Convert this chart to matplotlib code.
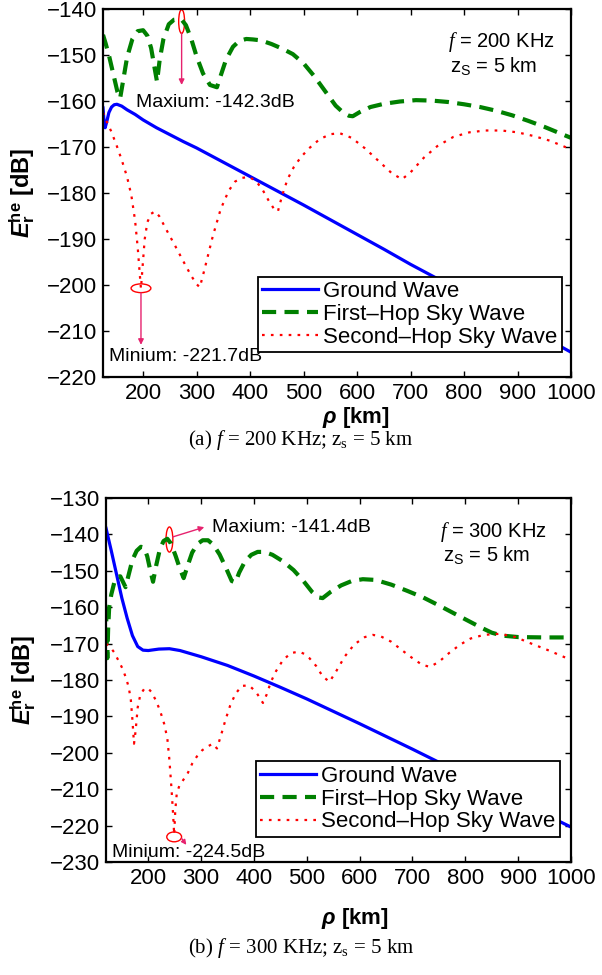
import numpy as np
import matplotlib
matplotlib.use('Agg')
import matplotlib.pyplot as plt
from matplotlib.patches import Ellipse

plt.rcParams['font.family'] = 'Liberation Sans'
plt.rcParams['mathtext.fontset'] = 'custom'
plt.rcParams['mathtext.it'] = 'Liberation Serif:italic'
plt.rcParams['mathtext.rm'] = 'Liberation Sans'
plt.rcParams['mathtext.bf'] = 'Liberation Sans:bold'
plt.rcParams['mathtext.sf'] = 'Liberation Sans:bold:italic'
plt.rcParams['mathtext.cal'] = 'Liberation Serif'

# ---------------- (a) f = 200 KHz ----------------
gw1_x = [125, 127, 129, 132, 136, 141, 146, 151, 160, 170, 185, 200, 225, 250, 275, 300,
         350, 400, 450, 500, 550, 600, 650, 700, 750, 800, 850, 900, 950, 1000]
gw1_y = [-161.5, -164.5, -165.8, -164.5, -162.5, -161.3, -160.8, -160.7, -161.1, -161.9,
         -162.9, -164.1, -165.8, -167.3, -168.8, -170.2, -173.3, -176.4, -179.5, -182.6,
         -185.8, -189.0, -192.2, -195.5, -198.6, -201.8, -205.0, -208.2, -211.4, -214.6]

fh1_x = [125, 130, 137, 145, 152, 157, 162, 170, 180, 190, 200, 208, 215, 221, 226, 231,
         238, 248, 258, 265, 272, 280, 290, 300, 312, 325, 338, 345, 355, 368, 380, 393,
         405, 420, 440, 460, 480, 500, 520, 540, 560, 575, 585, 592, 605, 625, 650, 680,
         710, 740, 770, 800, 830, 860, 890, 920, 950, 975, 1000]
fh1_y = [-145.6, -147.5, -150.5, -154.5, -158.0, -159.4, -156.0, -150.5, -146.5, -144.8,
         -144.6, -145.8, -148.5, -152.5, -155.8, -151.0, -146.5, -143.3, -142.3, -142.2,
         -142.3, -143.5, -146.5, -150.3, -154.0, -156.5, -157.0, -154.5, -151.0, -148.2,
         -146.9, -146.5, -146.6, -146.8, -147.6, -148.6, -149.8, -151.8, -154.6, -157.8,
         -161.0, -162.6, -163.2, -163.3, -162.4, -161.3, -160.6, -160.1, -159.8, -159.9,
         -160.2, -160.7, -161.3, -162.1, -163.1, -164.3, -165.6, -166.8, -168.0]

sh1_x = [125, 132, 140, 150, 160, 170, 178, 185, 190, 194, 196, 199, 203, 208, 215, 222,
         230, 245, 260, 275, 290, 300, 306, 315, 330, 345, 360, 372, 385, 398, 410, 422,
         434, 445, 452, 460, 470, 482, 495, 510, 530, 550, 568, 590, 615, 640, 665, 684,
         700, 725, 750, 780, 810, 840, 870, 900, 930, 960, 1000]
sh1_y = [-162.5, -164.5, -166.5, -169.5, -172.8, -176.5, -180.5, -186.0, -192.0, -198.0,
         -200.8, -196.0, -190.0, -186.3, -184.5, -184.0, -185.0, -188.3, -191.5, -194.8,
         -198.0, -199.8, -200.5, -196.5, -189.5, -183.5, -179.5, -177.5, -176.7, -176.5,
         -177.3, -179.0, -181.5, -183.5, -184.0, -180.5, -177.0, -174.3, -172.2, -170.3,
         -168.3, -167.2, -167.0, -168.0, -170.3, -173.0, -175.7, -177.0, -175.5, -172.3,
         -169.8, -167.8, -166.8, -166.4, -166.4, -166.8, -167.6, -168.6, -170.5]

# ---------------- (b) f = 300 KHz ----------------
gw2_x = [120, 130, 140, 150, 160, 170, 180, 190, 200, 220, 240, 260, 300, 350, 400, 450,
         500, 600, 700, 800, 900, 1000]
gw2_y = [-138.3, -144.5, -151.0, -157.5, -163.0, -167.8, -170.8, -171.8, -171.9, -171.5,
         -171.4, -171.9, -173.6, -176.0, -178.9, -182.0, -185.2, -192.0, -199.0, -206.2,
         -213.3, -220.4]

fh2_x = [120, 121, 122.5, 124, 126, 130, 136, 141, 147, 152, 157, 163, 170, 178, 186, 192,
         198, 204, 209, 215, 222, 229, 236, 243, 252, 260, 267, 274, 283, 293, 303, 313,
         323, 335, 347, 358, 365, 372, 383, 395, 407, 420, 435, 455, 475, 492, 510, 522,
         530, 545, 565, 585, 606, 630, 660, 690, 720, 750, 780, 805, 830, 850, 870, 900,
         950, 1000]
fh2_y = [-160.0, -168.0, -174.0, -166.0, -160.0, -156.5, -153.0, -151.7, -151.5, -153.0,
         -154.5, -151.0, -147.0, -144.5, -143.4, -143.6, -146.0, -150.0, -153.0, -148.5,
         -144.0, -141.8, -141.2, -142.5, -146.0, -149.5, -152.0, -148.8, -145.0, -142.6,
         -141.6, -141.6, -142.8, -145.5, -149.2, -152.8, -153.2, -150.5, -147.4, -145.6,
         -144.8, -144.8, -145.6, -147.4, -149.8, -152.5, -155.8, -157.3, -157.5, -155.8,
         -154.0, -152.8, -152.3, -152.5, -153.8, -155.5, -157.3, -159.5, -161.8, -163.7,
         -165.6, -167.0, -167.8, -168.2, -168.3, -168.3]

sh2_x = [120, 128, 135, 143, 151, 158, 163, 167, 170, 173, 176, 180, 185, 192, 199, 206,
         214, 222, 230, 236, 240, 244, 247, 249, 251, 254, 259, 266, 275, 283, 292, 302,
         312, 322, 330, 338, 346, 355, 365, 377, 391, 404, 417, 424, 432, 442, 455, 470,
         485, 495, 505, 518, 530, 543, 556, 572, 590, 610, 625, 640, 660, 680, 700, 718,
         733, 750, 770, 790, 810, 835, 865, 895, 925, 960, 1000]
sh2_y = [-170.0, -171.0, -172.3, -174.5, -176.8, -179.5, -182.0, -185.5, -191.0, -197.5,
         -194.0, -187.5, -184.0, -182.5, -182.2, -183.3, -185.5, -188.3, -192.0, -196.0,
         -202.0, -210.0, -217.0, -222.5, -216.0, -211.0, -209.0, -207.5, -205.5, -203.0,
         -201.0, -199.3, -198.3, -197.5, -198.8, -195.0, -191.0, -187.0, -183.8, -181.6,
         -181.5, -183.3, -186.3, -184.0, -180.5, -177.5, -174.5, -172.6, -172.2, -172.8,
         -174.0, -176.2, -179.0, -180.5, -177.5, -173.5, -170.2, -168.2, -167.6, -168.0,
         -169.5, -171.8, -174.0, -175.8, -176.4, -175.0, -172.5, -170.3, -168.6, -167.6,
         -167.3, -168.2, -170.0, -172.0, -174.5]

labels = ['Ground Wave', 'First\u2013Hop Sky Wave', 'Second\u2013Hop Sky Wave']
xticks = [200, 300, 400, 500, 600, 700, 800, 900, 1000]
pink = '#e6226e'

fig = plt.figure(figsize=(6.02, 9.75), dpi=100)
ax1 = fig.add_axes([0.1711, 0.6133, 0.7774, 0.3774])
ax2 = fig.add_axes([0.1761, 0.1159, 0.7724, 0.3733])


def draw(ax, gx, gy, fx, fy, sx, sy):
    ax.plot(gx, gy, color='blue', lw=2.3, label=labels[0])
    ax.plot(fx, fy, color='#008000', lw=3.0, ls=(0, (3.4, 2.0)), label=labels[1])
    ax.plot(sx, sy, color='red', lw=1.6, ls=(0, (1.2, 2.8)), label=labels[2])
    ax.set_xticks(xticks)
    ax.tick_params(direction='in', length=4, width=1, top=True, right=True,
                   labelsize=16, pad=4)
    for s in ax.spines.values():
        s.set_linewidth(1.6)
    ax.set_ylabel(r'$\mathsf{E}_{\mathbf{r}}^{\mathbf{he}}$ [dB]', fontsize=17,
                  fontweight='bold')
    ax.set_xlabel(r'$\mathsf{\rho}$ [km]', fontsize=16, fontweight='bold')


draw(ax1, gw1_x, gw1_y, fh1_x, fh1_y, sh1_x, sh1_y)
ax1.set_xlim(125, 1000)
ax1.set_ylim(-220, -140)
ax1.set_yticks(np.arange(-220, -139, 10))
ax1.yaxis.set_label_coords(-0.14, 0.5)
ax1.xaxis.set_label_coords(0.54, -0.077)
leg = ax1.legend(loc='lower right', bbox_to_anchor=(0.981, 0.068), borderaxespad=0,
                 fontsize=16, labelspacing=0.08, handlelength=2.5, handletextpad=0.25,
                 borderpad=0.2, fancybox=False, framealpha=1, edgecolor='black')
leg.get_frame().set_linewidth(1.3)

ax1.add_patch(Ellipse((272, -142.7), 11, 5.2, fill=False, ec='red', lw=1))
ax1.annotate('', xy=(272, -156.5), xytext=(272, -145.3),
             arrowprops=dict(arrowstyle='-|>', color=pink, lw=1, mutation_scale=8,
                             shrinkA=0, shrinkB=0))
ax1.text(187, -160.4, 'Maxium: -142.3dB', fontsize=14, va='center')
ax1.add_patch(Ellipse((196, -200.7), 37, 1.9, fill=False, ec='red', lw=1))
ax1.annotate('', xy=(196, -213), xytext=(196, -201.7),
             arrowprops=dict(arrowstyle='-|>', color=pink, lw=1, mutation_scale=8,
                             shrinkA=0, shrinkB=0))
ax1.text(136, -215.6, 'Minium: -221.7dB', fontsize=14, va='center')
ax1.text(770, -147.2, r'$\mathit{f}$ = 200 KHz', fontsize=14.5, va='center')
ax1.text(774, -152.4, r'z$_\mathrm{S}$ = 5 km', fontsize=14.5, va='center')

draw(ax2, gw2_x, gw2_y, fh2_x, fh2_y, sh2_x, sh2_y)
ax2.set_xlim(120, 1000)
ax2.set_ylim(-230, -130)
ax2.set_yticks(np.arange(-230, -129, 10))
ax2.yaxis.set_label_coords(-0.147, 0.5)
ax2.xaxis.set_label_coords(0.535, -0.12)
leg = ax2.legend(loc='lower right', bbox_to_anchor=(0.976, 0.069), borderaxespad=0,
                 fontsize=16, labelspacing=0.08, handlelength=2.5, handletextpad=0.25,
                 borderpad=0.2, fancybox=False, framealpha=1, edgecolor='black')
leg.get_frame().set_linewidth(1.3)

ax2.add_patch(Ellipse((240, -141.4), 13, 6.9, fill=False, ec='red', lw=1))
ax2.annotate('', xy=(306, -138), xytext=(246, -140.7),
             arrowprops=dict(arrowstyle='-|>', color=pink, lw=1, mutation_scale=8,
                             shrinkA=0, shrinkB=0))
ax2.text(321, -138, 'Maxium: -141.4dB', fontsize=14, va='center')
ax2.add_patch(Ellipse((249, -223.1), 28, 2.7, fill=False, ec='red', lw=1))
ax2.annotate('', xy=(272, -225.3), xytext=(263, -223.5),
             arrowprops=dict(arrowstyle='-|>', color=pink, lw=1, mutation_scale=7,
                             shrinkA=0, shrinkB=0))
ax2.text(131, -227.4, 'Minium: -224.5dB', fontsize=14, va='center')
ax2.text(752, -139.3, r'$\mathit{f}$ = 300 KHz', fontsize=14.5, va='center')
ax2.text(757, -145.7, r'z$_\mathrm{S}$ = 5 km', fontsize=14.5, va='center')

fig.text(0.5, 1 - 440 / 975, r'(a) $\mathit{f}$ = 200 KHz; z$_{\mathcal{s}}$ = 5 km',
         family='Liberation Serif', fontsize=15, ha='center', va='center')
fig.text(0.5, 1 - 948 / 975, r'(b) $\mathit{f}$ = 300 KHz; z$_{\mathcal{s}}$ = 5 km',
         family='Liberation Serif', fontsize=15, ha='center', va='center')

fig.savefig('out.png', dpi=100)
